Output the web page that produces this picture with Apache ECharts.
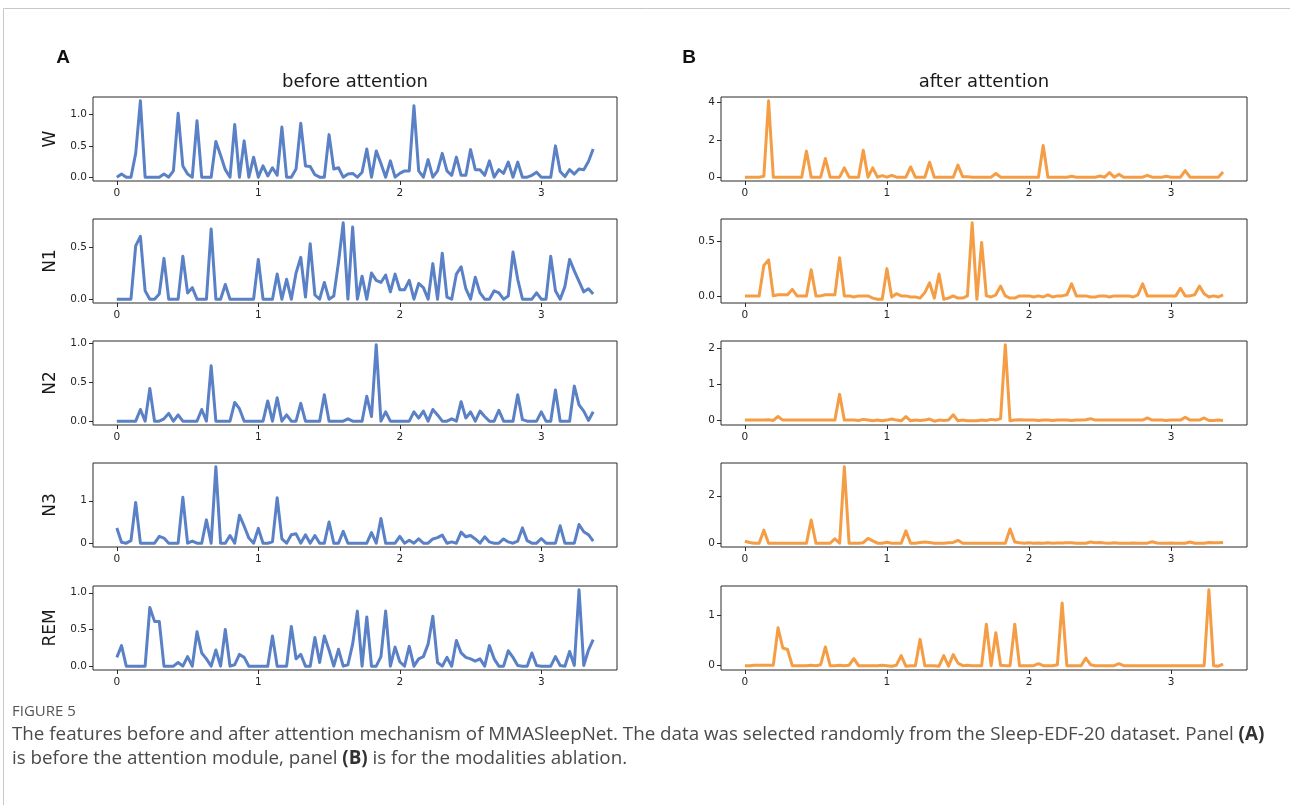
<!DOCTYPE html>
<html>
<head>
<meta charset="utf-8">
<title>Figure 5</title>
<script src="https://cdn.jsdelivr.net/npm/echarts@6/dist/echarts.min.js"></script>
<style>
  html, body { margin: 0; padding: 0; background: #fff; }
  #chart { width: 1290px; height: 805px; }
</style>
</head>
<body>
<div id="chart"></div>
<script>
// sleep stages, one row each
const stages = ['W', 'N1', 'N2', 'N3', 'REM'];
// samples are 1/30 s apart on the x axis
const sampleStep = 1 / 30;
const xTicks = [0, 1, 2, 3];

// panel A: before attention
const beforeW = [
  0.0, 0.05, 0.0, 0.0, 0.38, 1.22, 0.0, 0.0, 0.0, 0.0,
  0.05, 0.0, 0.1, 1.02, 0.18, 0.05, 0.0, 0.9, 0.0, 0.0,
  0.0, 0.57, 0.35, 0.12, 0.0, 0.84, 0.0, 0.58, 0.0, 0.32,
  0.0, 0.18, 0.02, 0.15, 0.03, 0.8, 0.0, 0.0, 0.13, 0.86,
  0.18, 0.17, 0.04, 0.0, 0.0, 0.68, 0.13, 0.15, 0.0, 0.05,
  0.06, 0.0, 0.08, 0.45, 0.0, 0.42, 0.22, 0.0, 0.26, 0.0,
  0.06, 0.1, 0.1, 1.14, 0.1, 0.0, 0.28, 0.0, 0.1, 0.38,
  0.1, 0.03, 0.32, 0.03, 0.03, 0.44, 0.12, 0.12, 0.03, 0.26,
  0.0, 0.12, 0.06, 0.24, 0.0, 0.24, 0.0, 0.0, 0.03, 0.08,
  0.0, 0.0, 0.0, 0.5, 0.09, 0.01, 0.12, 0.05, 0.13, 0.12,
  0.25, 0.45
];
const beforeN1 = [
  0.0, 0.0, 0.0, 0.0, 0.51, 0.6, 0.08, 0.0, 0.0, 0.05,
  0.39, 0.0, 0.0, 0.0, 0.41, 0.06, 0.11, 0.0, 0.0, 0.0,
  0.67, 0.0, 0.0, 0.14, 0.0, 0.0, 0.0, 0.0, 0.0, 0.0,
  0.38, 0.0, 0.0, 0.0, 0.24, 0.0, 0.19, 0.0, 0.25, 0.4,
  0.02, 0.53, 0.04, 0.0, 0.16, 0.0, 0.03, 0.35, 0.73, 0.0,
  0.69, 0.0, 0.22, 0.0, 0.25, 0.18, 0.16, 0.23, 0.07, 0.24,
  0.09, 0.09, 0.18, 0.0, 0.15, 0.11, 0.0, 0.34, 0.0, 0.44,
  0.02, 0.0, 0.24, 0.31, 0.1, 0.0, 0.21, 0.06, 0.0, 0.0,
  0.08, 0.06, 0.0, 0.03, 0.45, 0.19, 0.0, 0.0, 0.0, 0.06,
  0.0, 0.0, 0.41, 0.08, 0.0, 0.12, 0.38, 0.27, 0.17, 0.07,
  0.1, 0.05
];
const beforeN2 = [
  0.0, 0.0, 0.0, 0.0, 0.0, 0.15, 0.0, 0.42, 0.0, 0.0,
  0.03, 0.1, 0.0, 0.08, 0.0, 0.0, 0.0, 0.0, 0.15, 0.0,
  0.71, 0.0, 0.0, 0.0, 0.0, 0.24, 0.16, 0.0, 0.0, 0.0,
  0.0, 0.0, 0.26, 0.0, 0.3, 0.0, 0.08, 0.0, 0.0, 0.23,
  0.0, 0.0, 0.0, 0.0, 0.34, 0.0, 0.0, 0.0, 0.0, 0.03,
  0.0, 0.0, 0.0, 0.32, 0.06, 0.98, 0.0, 0.12, 0.0, 0.0,
  0.0, 0.0, 0.0, 0.12, 0.04, 0.13, 0.0, 0.15, 0.08, 0.0,
  0.0, 0.03, 0.0, 0.25, 0.04, 0.12, 0.0, 0.13, 0.06, 0.0,
  0.0, 0.14, 0.0, 0.0, 0.0, 0.34, 0.02, 0.0, 0.0, 0.0,
  0.12, 0.0, 0.0, 0.4, 0.0, 0.0, 0.0, 0.45, 0.21, 0.13,
  0.01, 0.12
];
const beforeN3 = [
  0.36, 0.02, 0.0, 0.06, 0.96, 0.0, 0.0, 0.0, 0.0, 0.16,
  0.12, 0.0, 0.0, 0.0, 1.08, 0.0, 0.05, 0.0, 0.0, 0.55,
  0.0, 1.8, 0.0, 0.0, 0.18, 0.0, 0.66, 0.4, 0.12, 0.0,
  0.35, 0.0, 0.0, 0.03, 1.07, 0.1, 0.0, 0.2, 0.22, 0.0,
  0.2, 0.0, 0.18, 0.0, 0.0, 0.5, 0.0, 0.0, 0.28, 0.0,
  0.0, 0.0, 0.0, 0.0, 0.25, 0.0, 0.58, 0.0, 0.0, 0.0,
  0.16, 0.0, 0.07, 0.0, 0.1, 0.0, 0.0, 0.1, 0.13, 0.19,
  0.0, 0.03, 0.0, 0.26, 0.15, 0.18, 0.1, 0.0, 0.15, 0.03,
  0.0, 0.0, 0.1, 0.03, 0.0, 0.05, 0.36, 0.06, 0.0, 0.0,
  0.11, 0.0, 0.0, 0.0, 0.41, 0.0, 0.0, 0.0, 0.44, 0.27,
  0.2, 0.05
];
const beforeREM = [
  0.12, 0.28, 0.0, 0.0, 0.0, 0.0, 0.0, 0.8, 0.61, 0.61,
  0.0, 0.0, 0.0, 0.05, 0.0, 0.13, 0.0, 0.47, 0.18, 0.1,
  0.0, 0.22, 0.0, 0.5, 0.0, 0.02, 0.16, 0.12, 0.0, 0.0,
  0.0, 0.0, 0.0, 0.41, 0.0, 0.0, 0.0, 0.54, 0.1, 0.16,
  0.0, 0.0, 0.39, 0.05, 0.41, 0.22, 0.0, 0.23, 0.0, 0.02,
  0.3, 0.75, 0.0, 0.67, 0.0, 0.0, 0.13, 0.75, 0.0, 0.26,
  0.06, 0.0, 0.27, 0.0, 0.1, 0.13, 0.3, 0.68, 0.05, 0.0,
  0.12, 0.0, 0.35, 0.18, 0.12, 0.1, 0.07, 0.1, 0.0, 0.28,
  0.1, 0.0, 0.0, 0.21, 0.12, 0.01, 0.0, 0.0, 0.18, 0.01,
  0.0, 0.0, 0.0, 0.13, 0.01, 0.0, 0.2, 0.01, 1.04, 0.01,
  0.22, 0.36
];

// panel B: after attention
const afterW = [
  0, 0, 0, 0, 0.05, 4.1, 0, 0, 0, 0,
  0, 0, 0, 1.4, 0, 0, 0, 1.0, 0, 0,
  0, 0.5, 0, 0, 0, 1.45, 0, 0.5, 0, 0.08,
  0, 0.1, 0, 0, 0, 0.55, 0, 0, 0, 0.8,
  0, 0, 0, 0, 0, 0.65, 0.02, 0.02, 0, 0,
  0, 0, 0, 0.2, 0, 0, 0, 0, 0, 0,
  0, 0, 0, 1.7, 0, 0, 0, 0, 0, 0.05,
  0, 0, 0, 0, 0, 0.06, 0, 0.25, 0, 0.15,
  0, 0, 0, 0, 0, 0.1, 0, 0, 0, 0.05,
  0, 0, 0, 0.35, 0, 0, 0, 0, 0, 0,
  0, 0.28
];
const afterN1 = [
  0, 0, 0, 0, 0.28, 0.33, 0.0, 0.01, 0.01, 0.01,
  0.06, 0.0, 0.0, 0.0, 0.24, 0.0, 0.0, 0.01, 0.01, 0.01,
  0.35, 0.0, 0.0, -0.01, 0.0, 0.0, 0.0, -0.02, -0.03, -0.03,
  0.25, -0.01, 0.02, 0.0, 0.0, -0.01, -0.01, -0.02, 0.03, 0.12,
  -0.02, 0.2, -0.03, -0.02, 0.0, -0.02, -0.02, 0.0, 0.67, -0.03,
  0.49, 0.0, -0.01, 0.01, 0.09, 0.0, -0.02, -0.02, 0.0, 0.0,
  0.0, -0.01, 0.0, -0.01, 0.01, -0.01, 0.0, 0.0, 0.01, 0.11,
  0.0, 0.0, 0.0, -0.01, -0.01, 0.0, 0.0, -0.01, 0.0, 0.0,
  0.0, 0.0, -0.01, 0.01, 0.11, 0.0, 0.0, 0.0, 0.0, 0.0,
  0.0, 0.0, 0.07, 0.0, 0.0, 0.01, 0.09, 0.02, -0.01, 0.0,
  -0.01, 0.01
];
const afterN2 = [
  0, 0, 0, 0, 0, 0.01, -0.01, 0.1, 0, 0,
  0, 0, 0, 0, 0, 0, 0, 0, 0, 0,
  0.72, 0, 0, 0, -0.01, 0.02, 0, -0.02, 0, -0.02,
  0, 0.03, 0, -0.02, 0.1, -0.02, 0, -0.01, 0, 0.03,
  -0.03, 0, -0.01, 0, 0.15, -0.02, 0, -0.02, -0.02, -0.02,
  0, -0.01, 0.02, 0, 0.04, 2.1, -0.02, 0, 0.01, 0,
  0, 0, -0.01, 0, 0, -0.01, 0, 0, 0, -0.01,
  0, 0, 0.01, 0.04, 0, 0, 0, 0, 0, 0,
  0, 0, 0, 0, 0, 0.06, 0, 0, 0, -0.01,
  0, 0, 0, 0.08, 0, 0, 0, 0.06, -0.01, -0.01,
  0, -0.01
];
const afterN3 = [
  0.08, 0.03, 0, 0, 0.55, 0, 0, 0, 0, 0,
  0, 0, 0, 0, 0.98, 0, 0, 0, 0, 0.18,
  0, 3.22, 0, 0, 0, 0.02, 0.2, 0.1, 0, 0,
  0.04, 0, 0, 0, 0.52, 0, 0, 0.03, 0.05, 0.03,
  0, 0, 0, 0.02, 0.03, 0.12, 0, 0, 0, 0,
  0, 0, 0, 0, 0, 0, 0.6, 0.05, 0.02, 0,
  0.02, 0, 0.01, 0, 0.02, 0, 0.01, 0.01, 0.02, 0.02,
  0, 0, 0, 0.05, 0.02, 0.03, 0.01, 0, 0.02, 0,
  0, 0, 0.01, 0, 0, 0, 0.06, 0.01, 0, 0,
  0.01, 0, 0, 0, 0.05, 0, 0, 0, 0.03, 0.02,
  0.02, 0.03
];
const afterREM = [
  0, 0, 0.01, 0.01, 0.01, 0.01, 0.01, 0.75, 0.35, 0.32,
  0, 0, 0, 0, 0.01, 0, 0.02, 0.37, 0, 0,
  0.01, 0, 0.01, 0.14, 0, 0, 0, 0, 0, 0.01,
  0, -0.01, 0.01, 0.2, -0.01, 0, 0, 0.52, 0, 0,
  0, -0.01, 0.2, -0.01, 0.22, 0.05, 0, 0.01, 0, 0,
  0, 0.82, 0, 0.65, 0.01, 0, 0, 0.82, 0, 0,
  0, 0, 0.04, 0, 0, 0, 0.02, 1.24, 0, 0,
  0, 0, 0.15, 0.02, 0, 0, 0, 0, 0, 0.04,
  0, 0, 0, 0, 0, 0, 0, 0, 0, 0,
  0, 0, 0, 0, 0, 0, 0, 0, 1.5, 0,
  -0.01, 0.03
];

// y tick labels per row
const beforeTicks = [['0.0', '0.5', '1.0'], ['0.0', '0.5'], ['0.0', '0.5', '1.0'], ['0', '1'], ['0.0', '0.5', '1.0']];
const afterTicks = [['0', '2', '4'], ['0.0', '0.5'], ['0', '1', '2'], ['0', '2'], ['0', '1']];

const BLUE = '#5a80c6';
const ORANGE = '#f59d45';
const AXIS_COLOR = '#2b2b2b';
const LABEL_FONT = 'DejaVu Sans';

const columns = [
  { left: 93, width: 524, values: [beforeW, beforeN1, beforeN2, beforeN3, beforeREM], ticks: beforeTicks, color: BLUE, named: true },
  { left: 721, width: 526, values: [afterW, afterN1, afterN2, afterN3, afterREM], ticks: afterTicks, color: ORANGE, named: false }
];
const rowTops = [97, 219, 341, 463, 586];
const rowHeight = 84;

const grid = [], xAxis = [], yAxis = [], series = [];

columns.forEach(function(col) {
  col.values.forEach(function(vals, r) {
    const idx = grid.length;
    const n = vals.length;
    const xMax = (n - 1) * sampleStep;
    const xPad = xMax * 0.05;
    const lo = Math.min.apply(null, vals);
    const hi = Math.max.apply(null, vals);
    const yPad = (hi - lo) * 0.05;
    const tickLabels = col.ticks[r];
    const tickValues = tickLabels.map(Number);

    grid.push({
      left: col.left, top: rowTops[r], width: col.width, height: rowHeight,
      show: true, borderColor: AXIS_COLOR, borderWidth: 1, backgroundColor: 'transparent'
    });
    xAxis.push({
      type: 'value', gridIndex: idx, min: -xPad, max: xMax + xPad,
      axisLine: { show: false, onZero: false },
      splitLine: { show: false },
      axisTick: { show: true, customValues: xTicks, length: 4, lineStyle: { color: AXIS_COLOR } },
      axisLabel: { customValues: xTicks, fontSize: 10.5, fontFamily: LABEL_FONT, color: '#262626', margin: 7 }
    });
    yAxis.push({
      type: 'value', gridIndex: idx, min: lo - yPad, max: hi + yPad,
      name: col.named ? stages[r] : '',
      nameLocation: 'middle', nameGap: 34, nameRotate: 90,
      nameTextStyle: { fontSize: 17, fontFamily: LABEL_FONT, color: '#1a1a1a' },
      axisLine: { show: false, onZero: false },
      splitLine: { show: false },
      axisTick: { show: true, customValues: tickValues, length: 4, lineStyle: { color: AXIS_COLOR } },
      axisLabel: {
        customValues: tickValues, fontSize: 10.5, fontFamily: LABEL_FONT, color: '#262626', margin: 6,
        formatter: function(v) {
          const k = tickValues.findIndex(t => Math.abs(t - v) < 1e-9);
          return k >= 0 ? tickLabels[k] : '';
        }
      }
    });
    series.push({
      type: 'line', xAxisIndex: idx, yAxisIndex: idx,
      data: vals.map((v, i) => [i * sampleStep, v]),
      showSymbol: false, symbol: 'none', clip: true,
      lineStyle: { color: col.color, width: 3, join: 'round' },
      itemStyle: { color: col.color }
    });
  });
});

const captionRich = { b: { fontWeight: 'bold', fontSize: 18.8, fontFamily: 'Open Sans', fill: '#333' } };

const chart = echarts.init(document.getElementById('chart'), null, { renderer: 'canvas' });
chart.setOption({
  animation: false,
  backgroundColor: '#fff',
  grid: grid,
  xAxis: xAxis,
  yAxis: yAxis,
  series: series,
  graphic: [
    { type: 'rect', shape: { x: 3.5, y: 8.5, width: 1400, height: 900 }, style: { fill: 'none', stroke: '#c8c8c8', lineWidth: 1 }, silent: true },
    { type: 'text', x: 63, y: 58, style: { text: 'A', font: 'bold 19px "Liberation Sans"', fill: '#111', align: 'center', verticalAlign: 'middle' } },
    { type: 'text', x: 689, y: 58, style: { text: 'B', font: 'bold 19px "Liberation Sans"', fill: '#111', align: 'center', verticalAlign: 'middle' } },
    { type: 'text', x: 355, y: 82, style: { text: 'before attention', font: '18px "DejaVu Sans"', fill: '#1a1a1a', align: 'center', verticalAlign: 'middle' } },
    { type: 'text', x: 984, y: 82, style: { text: 'after attention', font: '18px "DejaVu Sans"', fill: '#1a1a1a', align: 'center', verticalAlign: 'middle' } },
    { type: 'text', x: 12, y: 712, style: { text: 'FIGURE 5', font: '15px "Open Sans"', fill: '#555', verticalAlign: 'middle' } },
    {
      type: 'text', x: 12, y: 735,
      style: {
        text: 'The features before and after attention mechanism of MMASleepNet. The data was selected randomly from the Sleep-EDF-20 dataset. Panel {b|(A)}',
        font: '18.8px "Open Sans"', fill: '#4a4a4a', verticalAlign: 'middle', rich: captionRich
      }
    },
    {
      type: 'text', x: 12, y: 759,
      style: {
        text: 'is before the attention module, panel {b|(B)} is for the modalities ablation.',
        font: '18.8px "Open Sans"', fill: '#4a4a4a', verticalAlign: 'middle', rich: captionRich
      }
    }
  ]
});
</script>
</body>
</html>
